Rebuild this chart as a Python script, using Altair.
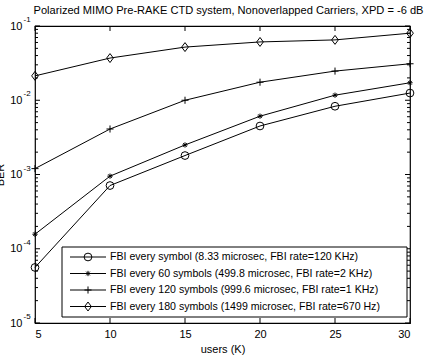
import altair as alt
import pandas as pd

users = [5, 10, 15, 20, 25, 30]
series_names = [
    "FBI every symbol (8.33 microsec, FBI rate=120 KHz)",
    "FBI every 60 symbols (499.8 microsec, FBI rate=2 KHz)",
    "FBI every 120 symbols (999.6 microsec, FBI rate=1 KHz)",
    "FBI every 180 symbols (1499 microsec, FBI rate=670 Hz)",
]
ber_every_symbol = [5.6e-5, 7.1e-4, 1.8e-3, 4.5e-3, 8.3e-3, 1.25e-2]
ber_60_symbols = [1.57e-4, 9.5e-4, 2.5e-3, 6.1e-3, 1.17e-2, 1.72e-2]
ber_120_symbols = [1.2e-3, 4.1e-3, 1.0e-2, 1.75e-2, 2.47e-2, 3.1e-2]
ber_180_symbols = [2.13e-2, 3.7e-2, 5.2e-2, 6.1e-2, 6.5e-2, 8.0e-2]

x_ticks = [5, 10, 15, 20, 25, 30]
y_major = [1e-5, 1e-4, 1e-3, 1e-2, 1e-1]
y_exponents = ["-5", "-4", "-3", "-2", "-1"]
y_minor = [m * d for d in [1e-5, 1e-4, 1e-3, 1e-2] for m in range(2, 10)]

title_text = "Polarized MIMO Pre-RAKE CTD system, Nonoverlapped Carriers, XPD = -6 dB"
x_title = "users (K)"
y_title = "BER"

W, H = 375, 297
FONT = "Liberation Sans"

rows = []
for name, vals in zip(series_names, [ber_every_symbol, ber_60_symbols, ber_120_symbols, ber_180_symbols]):
    for u, v in zip(users, vals):
        rows.append({"users": u, "ber": v, "series": name})
df = pd.DataFrame(rows)

circle_path = "circle"
star_path = "M-1,0L1,0M0,-1L0,1M-0.7,-0.7L0.7,0.7M-0.7,0.7L0.7,-0.7"
plus_path = "M-1,0L1,0M0,-1L0,1"
diamond_path = "M0,-1L0.75,0L0,1L-0.75,0Z"
shape_paths = [circle_path, star_path, plus_path, diamond_path]
shape_sizes = [60, 28, 50, 80]

xs = alt.Scale(domain=[5, 30], nice=False, zero=False)
ys = alt.Scale(type="log", domain=[1e-5, 1e-1], nice=False)

base = alt.Chart(df)

lines = base.mark_line(color="black", strokeWidth=1).encode(
    x=alt.X("users:Q", scale=xs,
            axis=alt.Axis(values=x_ticks, tickSize=0, domain=False, grid=False,
                          labelFontSize=11, labelFont=FONT, labelColor="black",
                          labelPadding=5, title=x_title, titleFont=FONT,
                          titleFontSize=11, titleFontWeight="normal",
                          titleColor="black", titlePadding=4)),
    y=alt.Y("ber:Q", scale=ys,
            axis=alt.Axis(values=y_major, tickSize=0, domain=False, grid=False,
                          labelExpr="'10'", labelFontSize=11, labelFont=FONT,
                          labelColor="black", labelPadding=13,
                          title=y_title, titleFont=FONT, titleFontSize=11,
                          titleFontWeight="normal", titleColor="black",
                          titleAngle=-90, titleX=-32, titleY=H / 2,
                          titleBaseline="alphabetic", titleAlign="center")),
    detail="series:N",
)

point_layers = []
for name, path, sz in zip(series_names, shape_paths, shape_sizes):
    point_layers.append(
        alt.Chart(df[df["series"] == name]).mark_point(
            shape=path, size=sz, filled=False, color="black", strokeWidth=1, opacity=1
        ).encode(x=alt.X("users:Q", scale=xs), y=alt.Y("ber:Q", scale=ys))
    )

# inward ticks (MATLAB style box)
xt = pd.DataFrame({"t": x_ticks})
ymj = pd.DataFrame({"t": y_major, "e": y_exponents})
ymn = pd.DataFrame({"t": y_minor})
MAJ, MIN = 5, 3
tick_layers = [
    alt.Chart(xt).mark_rule(color="black", strokeWidth=1).encode(
        x=alt.X("t:Q", scale=xs), y=alt.value(H), y2=alt.value(H - MAJ)),
    alt.Chart(xt).mark_rule(color="black", strokeWidth=1).encode(
        x=alt.X("t:Q", scale=xs), y=alt.value(0), y2=alt.value(MAJ)),
    alt.Chart(ymj).mark_rule(color="black", strokeWidth=1).encode(
        y=alt.Y("t:Q", scale=ys), x=alt.value(0), x2=alt.value(MAJ)),
    alt.Chart(ymj).mark_rule(color="black", strokeWidth=1).encode(
        y=alt.Y("t:Q", scale=ys), x=alt.value(W), x2=alt.value(W - MAJ)),
    alt.Chart(ymn).mark_rule(color="black", strokeWidth=1).encode(
        y=alt.Y("t:Q", scale=ys), x=alt.value(0), x2=alt.value(MIN)),
    alt.Chart(ymn).mark_rule(color="black", strokeWidth=1).encode(
        y=alt.Y("t:Q", scale=ys), x=alt.value(W), x2=alt.value(W - MIN)),
]

exponents = alt.Chart(ymj).mark_text(
    align="left", baseline="middle", font=FONT, fontSize=8, color="black", dy=-6
).encode(y=alt.Y("t:Q", scale=ys), x=alt.value(-11.5), text="e:N")

# legend box (manual, MATLAB style)
LX0, LX1, LY0, LY1 = 27, 372, 221, 291
legend_layers = [
    alt.Chart(pd.DataFrame({"a": [0]})).mark_rect(
        fill="white", stroke="black", strokeWidth=1
    ).encode(x=alt.value(LX0), x2=alt.value(LX1), y=alt.value(LY0), y2=alt.value(LY1))
]
for i, (name, path, sz) in enumerate(zip(series_names, shape_paths, shape_sizes)):
    yy = 231 + 16.5 * i
    one = pd.DataFrame({"label": [name]})
    legend_layers.append(
        alt.Chart(one).mark_rule(color="black", strokeWidth=1).encode(
            x=alt.value(35), x2=alt.value(71), y=alt.value(yy)))
    legend_layers.append(
        alt.Chart(one).mark_point(shape=path, size=sz, filled=False, color="black",
                                  strokeWidth=1, opacity=1).encode(
            x=alt.value(53), y=alt.value(yy)))
    legend_layers.append(
        alt.Chart(one).mark_text(align="left", baseline="middle", font=FONT,
                                 fontSize=10.6, color="black").encode(
            x=alt.value(75), y=alt.value(yy), text="label:N"))

chart = alt.layer(
    lines, *point_layers, *tick_layers, exponents, *legend_layers
).properties(
    width=W, height=H,
    title=alt.Title(title_text, font=FONT, fontSize=11.1, fontWeight="normal",
                    color="black", anchor="middle", offset=0, dx=6, frame="group"),
    autosize=alt.AutoSizeParams(type="none"),
    padding={"left": 35, "top": 26, "right": 19, "bottom": 37},
    background="white",
).configure_view(stroke="black", strokeWidth=1.2)

chart.save("out.html", embed_options={"renderer": "svg", "actions": False})
